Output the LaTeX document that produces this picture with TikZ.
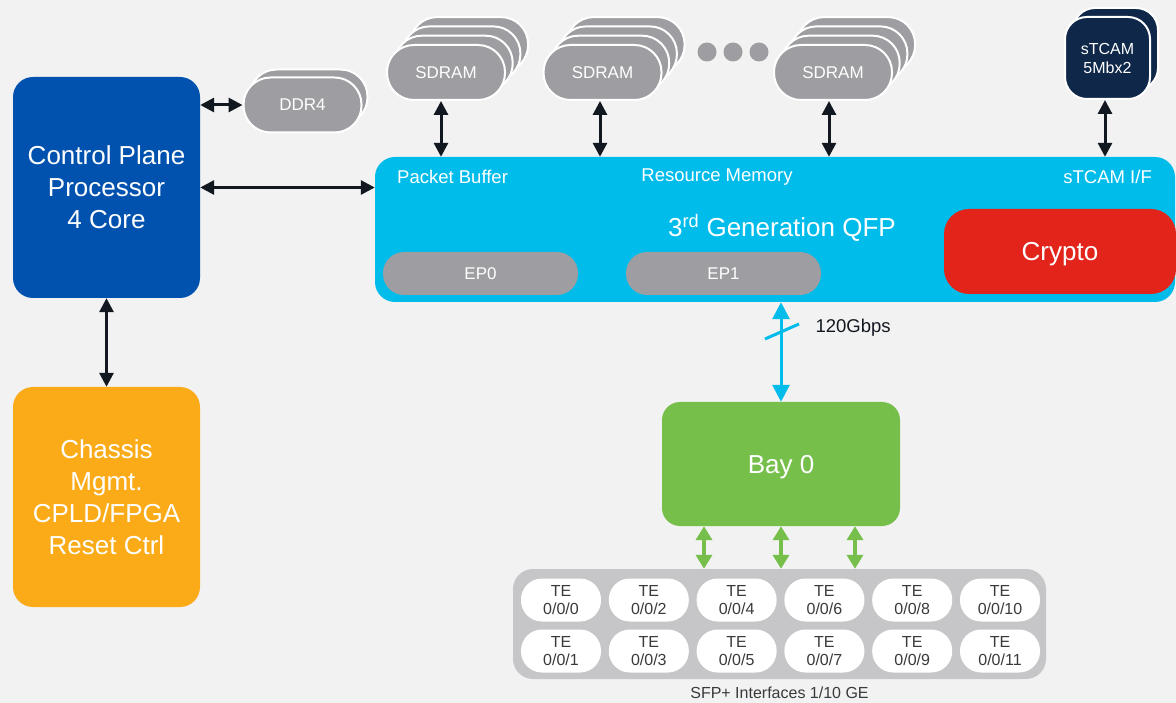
\documentclass[tikz,border=0pt]{standalone}
\usepackage{fontspec}
\setmainfont{Liberation Sans}
\usetikzlibrary{arrows.meta}

\definecolor{bgcol}{HTML}{F2F2F2}
\definecolor{cpublue}{HTML}{0152AE}
\definecolor{chassisorange}{HTML}{FBAB18}
\definecolor{qfpcyan}{HTML}{00BCEB}
\definecolor{cryptored}{HTML}{E3241B}
\definecolor{memgray}{HTML}{9E9EA2}
\definecolor{tcamnavy}{HTML}{0F2849}
\definecolor{baygreen}{HTML}{76BF4B}
\definecolor{panelgray}{HTML}{C6C6C8}
\definecolor{arrowblack}{HTML}{12181F}
\definecolor{darktext}{HTML}{3A3A3C}

\begin{document}
\begin{tikzpicture}[x=1pt, y=-1pt,
    bigbox/.style={rounded corners=20pt, inner sep=0pt, text=white, align=center,
                   font=\fontsize{26}{32}\selectfont},
    onecap/.style={text height=18.5pt, text depth=0pt},
    mempill/.style={fill=memgray, draw=white, line width=2pt, rounded corners=27pt,
                    minimum width=118pt, minimum height=55pt, inner sep=0pt, text=white,
                    font=\fontsize{17}{20}\selectfont},
    eppill/.style={fill=memgray, rounded corners=21pt, minimum width=195pt,
                   minimum height=43pt, inner sep=0pt, text=white, text height=12pt,
                   text depth=0pt, font=\fontsize{17}{20}\selectfont},
    tcambox/.style={fill=tcamnavy, draw=white, line width=2pt, rounded corners=22pt,
                    minimum width=85pt, minimum height=82pt, inner sep=0pt, text=white,
                    align=center, font=\fontsize{16}{19}\selectfont},
    tepill/.style={fill=white, rounded corners=21pt, minimum width=80pt,
                   minimum height=43pt, inner sep=0pt, text=darktext, align=center,
                   font=\fontsize{16}{18.5}\selectfont},
    qfplabel/.style={text=white, inner sep=0pt, font=\fontsize{18.5}{22}\selectfont},
    blacklink/.style={draw=arrowblack, line width=3pt,
                      {Triangle[width=14pt,length=14pt]}-{Triangle[width=14pt,length=14pt]}},
    bluelink/.style={draw=qfpcyan, line width=3pt,
                     {Triangle[width=17pt,length=17pt]}-{Triangle[width=17pt,length=17pt]}},
    greenlink/.style={draw=baygreen, line width=4pt,
                      {Triangle[width=16pt,length=14pt]}-{Triangle[width=16pt,length=14pt]}},
  ]
  \useasboundingbox[fill=bgcol] (0,0) rectangle (1176,703);

  % control plane and chassis
  \node[bigbox, fill=cpublue, minimum width=187pt, minimum height=221pt]
    (cpu) at (106.5,187.5) {Control Plane\\Processor\\4 Core};
  \node[bigbox, fill=chassisorange, minimum width=187pt, minimum height=220pt]
    (chassis) at (106.5,497) {Chassis\\Mgmt.\\CPLD/FPGA\\Reset Ctrl};

  % memories
  \node[mempill] (ddrback) at (308.5,97) {};
  \node[mempill] (ddr) at (302.5,105) {DDR4};

  \foreach \cx/\nm in {446/sda, 602.5/sdb, 833/sdc} {
    \foreach \k in {3,2,1}
      \node[mempill] (\nm back\k) at (\cx+7.7*\k, 72.5-9.3*\k) {};
    \node[mempill] (\nm) at (\cx,72.5) {SDRAM};
  }
  \foreach \cx/\nm in {707/dota, 733/dotb, 759/dotc}
    \fill[memgray] (\cx,52) circle (9.5pt);

  \node[tcambox] (tcamback) at (1115.5,49) {};
  \node[tcambox] (tcam) at (1107.5,58) {sTCAM\\5Mbx2};

  % QFP
  \node[bigbox, fill=qfpcyan, minimum width=800pt, minimum height=145pt]
    (qfp) at (775,229.5) {};
  \node[qfplabel, anchor=west] (pb) at (397,177) {Packet Buffer};
  \node[qfplabel] (rm) at (717,177) {Resource Memory};
  \node[qfplabel, anchor=east] (tif) at (1152,177) {sTCAM I/F};
  \node[text=white, onecap, font=\fontsize{26}{32}\selectfont] (qfpname) at (782,227)
    {3\textsuperscript{rd} Generation QFP};
  \node[eppill] (ep0) at (480.5,273.5) {EP0};
  \node[eppill] (ep1) at (723.5,273.5) {EP1};
  \node[bigbox, onecap, fill=cryptored, rounded corners=25pt, minimum width=232pt,
    minimum height=85pt] (crypto) at (1060,251.5) {Crypto};

  % bay and interfaces
  \node[bigbox, onecap, fill=baygreen, rounded corners=18pt, minimum width=238pt,
    minimum height=124pt] (bay) at (781,464) {Bay 0};
  \node[fill=panelgray, rounded corners=20pt, minimum width=533pt, minimum height=110pt]
    (panel) at (779.5,624) {};
  \foreach \i in {0,...,5} {
    \pgfmathtruncatemacro{\ta}{2*\i}
    \pgfmathtruncatemacro{\tb}{2*\i+1}
    \node[tepill] (te\ta) at (561+87.8*\i,600) {TE\\0/0/\ta};
    \node[tepill] (te\tb) at (561+87.8*\i,651) {TE\\0/0/\tb};
  }
  \node[text=darktext, font=\fontsize{16}{19}\selectfont] (sfp) at (779.5,693)
    {SFP+ Interfaces 1/10 GE};

  % links
  \draw[blacklink] (cpu.east |- ddr.west) -- (ddr.west);
  \draw[blacklink] (cpu.east) -- (cpu.east -| qfp.west);
  \draw[blacklink] (cpu.south) -- (chassis.north);
  \draw[blacklink] (sda.south -| 441,0) -- (qfp.north -| 441,0);
  \draw[blacklink] (sdb.south -| 600,0) -- (qfp.north -| 600,0);
  \draw[blacklink] (sdc.south -| 829,0) -- (qfp.north -| 829,0);
  \draw[blacklink] (tcam.south -| 1105,0) -- (qfp.north -| 1105,0);

  \draw[bluelink] (bay.north |- qfp.south) -- (bay.north);
  \draw[qfpcyan, line width=3pt] (765,339) -- (799,324);
  \node[anchor=west, text=arrowblack, font=\fontsize{18.5}{22}\selectfont]
    (rate) at (812,328) {120Gbps};

  \foreach \gx in {704,781,855}
    \draw[greenlink] (bay.south -| \gx,0) -- (panel.north -| \gx,0);
\end{tikzpicture}
\end{document}
